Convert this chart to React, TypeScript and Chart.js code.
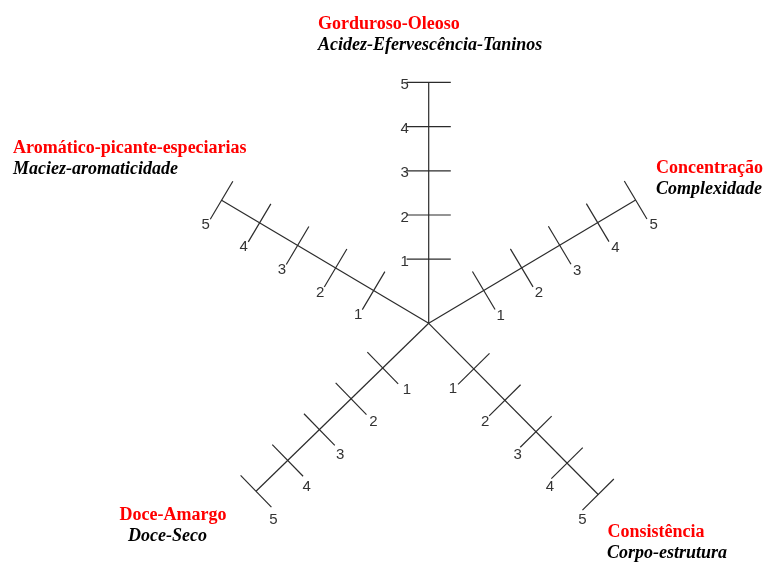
import React, { useEffect, useRef } from "react";
import { Chart, registerables } from "chart.js";

Chart.register(...registerables);

// ---------- data ----------
const axisTitles = [
  "Gorduroso-Oleoso",
  "Concentração",
  "Consistência",
  "Doce-Amargo",
  "Aromático-picante-especiarias",
];
const axisSubtitles = [
  "Acidez-Efervescência-Taninos",
  "Complexidade",
  "Corpo-estrutura",
  "Doce-Seco",
  "Maciez-aromaticidade",
];
// direction of each axis, degrees counter-clockwise from east
const axisAngles = [90, 30.8, -45.3, -135.8, 149.3];
const tickValues = [1, 2, 3, 4, 5];
const tickLabels = ["1", "2", "3", "4", "5"];
const scaleMax = 5;

// ---------- layout / style ----------
const W = 768;
const H = 562;
const PX_PER_UNIT = 44.2;
const CENTER_PX = { x: 428.7, y: 323.3 };
const INNER_OFFSET = 0.45; // gap (in value units) between centre and value 0
const TICK_HALF = 0.5; // half tick length in value units
const LABEL_SIDE = [1, -1, -1, 1, 1]; // +1: label on left of the axis direction
const LABEL_SHIFT = [-2.5, 2.1, 3.2, 2.7, 1]; // px along axis
const LABEL_STRETCH = [0, 0.3, 1.85, 2.35, 0.15]; // px per unit along axis
const LABEL_PERP = [24, 30.6, 29, 32.5, 29]; // px across axis
const TITLE_POS = [
  { x1: 318, x2: 318, y: 29, align: "left" },
  { x1: 656, x2: 656, y: 173, align: "left" },
  { x1: 607.5, x2: 607, y: 536.5, align: "left" },
  { x1: 173, x2: 167.5, y: 520, align: "center" },
  { x1: 13, x2: 13, y: 153, align: "left" },
];
const LINE_GAP = 21;
const LINE_COLOR = "#2b2b2b";
const TITLE_COLOR = "#ff0000";
const SUBTITLE_COLOR = "#000000";
const SERIF = '"Liberation Serif", "Times New Roman", serif';
const SANS = '"Liberation Sans", Arial, Helvetica, sans-serif';

const X_MIN = -CENTER_PX.x / PX_PER_UNIT;
const X_MAX = (W - CENTER_PX.x) / PX_PER_UNIT;
const Y_MIN = -(H - CENTER_PX.y) / PX_PER_UNIT;
const Y_MAX = CENTER_PX.y / PX_PER_UNIT;

function dirOf(i: number) {
  const a = (axisAngles[i] * Math.PI) / 180;
  const dx = Math.cos(a);
  const dy = Math.sin(a);
  const s = LABEL_SIDE[i];
  return { dx, dy, nx: -dy * s, ny: dx * s };
}

const textPlugin = {
  id: "starText",
  afterDatasetsDraw(chart: any) {
    const ctx = chart.ctx;
    const xs = chart.scales.x;
    const ys = chart.scales.y;
    ctx.save();
    // tick numbers
    ctx.font = `15px ${SANS}`;
    ctx.fillStyle = "#333333";
    ctx.textAlign = "center";
    ctx.textBaseline = "middle";
    axisAngles.forEach((_, i) => {
      const { dx, dy, nx, ny } = dirOf(i);
      tickValues.forEach((v, k) => {
        const along =
          v + INNER_OFFSET + (LABEL_SHIFT[i] + LABEL_STRETCH[i] * (v - 3)) / PX_PER_UNIT;
        const across = LABEL_PERP[i] / PX_PER_UNIT;
        const x = dx * along + nx * across;
        const y = dy * along + ny * across;
        ctx.fillText(tickLabels[k], xs.getPixelForValue(x), ys.getPixelForValue(y));
      });
    });
    // axis titles
    ctx.textBaseline = "alphabetic";
    axisTitles.forEach((t, i) => {
      const p = TITLE_POS[i];
      ctx.textAlign = p.align;
      ctx.font = `bold 18px ${SERIF}`;
      ctx.fillStyle = TITLE_COLOR;
      ctx.fillText(t, p.x1, p.y);
      ctx.font = `italic bold 18px ${SERIF}`;
      ctx.fillStyle = SUBTITLE_COLOR;
      ctx.fillText(axisSubtitles[i], p.x2, p.y + LINE_GAP);
    });
    ctx.restore();
  },
};

export default function App() {
  const ref = useRef<HTMLCanvasElement>(null);

  useEffect(() => {
    if (!ref.current) return;
    const lineStyle = {
      showLine: true,
      borderColor: LINE_COLOR,
      borderWidth: 1.2,
      pointRadius: 0,
      pointHoverRadius: 0,
      fill: false,
    };
    const datasets: any[] = [];
    axisAngles.forEach((_, i) => {
      const { dx, dy, nx, ny } = dirOf(i);
      const rMax = scaleMax + INNER_OFFSET;
      datasets.push({
        ...lineStyle,
        data: [
          { x: 0, y: 0 },
          { x: dx * rMax, y: dy * rMax },
        ],
      });
      tickValues.forEach((v) => {
        const r = v + INNER_OFFSET;
        const cx = dx * r;
        const cy = dy * r;
        datasets.push({
          ...lineStyle,
          data: [
            { x: cx - nx * TICK_HALF, y: cy - ny * TICK_HALF },
            { x: cx + nx * TICK_HALF, y: cy + ny * TICK_HALF },
          ],
        });
      });
    });

    const chart = new Chart(ref.current, {
      type: "scatter",
      data: { datasets },
      options: {
        animation: false,
        responsive: false,
        devicePixelRatio: 1,
        layout: { padding: 0 },
        plugins: {
          legend: { display: false },
          tooltip: { enabled: false },
          title: { display: false },
        },
        events: [],
        scales: {
          x: { type: "linear", min: X_MIN, max: X_MAX, display: false },
          y: { type: "linear", min: Y_MIN, max: Y_MAX, display: false },
        },
      },
      plugins: [textPlugin],
    } as any);
    return () => chart.destroy();
  }, []);

  return (
    <div
      style={{
        position: "fixed",
        left: 0,
        top: 0,
        width: W,
        height: H,
        background: "#ffffff",
      }}
    >
      <canvas ref={ref} width={W} height={H} style={{ display: "block" }} />
    </div>
  );
}
